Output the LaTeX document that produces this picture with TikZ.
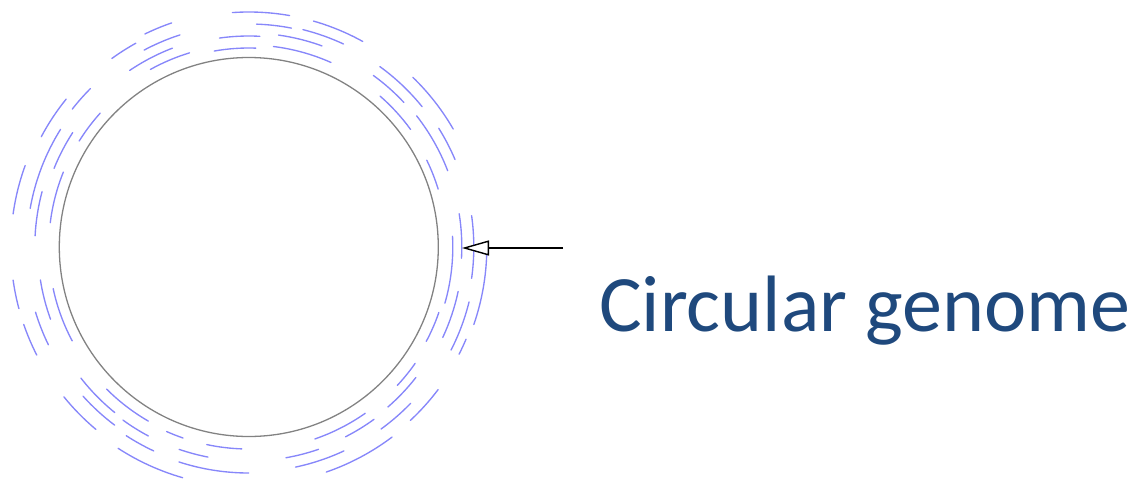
\documentclass[tikz,border=0pt]{standalone}
\usepackage{fontspec}
\setmainfont{Carlito}
\usetikzlibrary{arrows.meta}
\definecolor{arcblue}{RGB}{135,135,250}
\definecolor{ringgray}{RGB}{130,130,130}
\definecolor{labelblue}{RGB}{31,73,125}
\begin{document}
\begin{tikzpicture}[x=1pt,y=1pt,
  bluearc/.style={draw=arcblue,line width=1.35pt,line cap=round},
  ring/.style={draw=ringgray,line width=1.3pt},
  pointer/.style={draw=black,line width=1.4pt,-{Triangle[length=27pt,width=15pt,fill=white]}}]
\useasboundingbox (0,-482) rectangle (1132,0);
\coordinate (C) at (248.8,-247);
\foreach \s/\e/\r in {80/94/235,79/88/223,61/74/235,109/116/237,119/126/233,108/118/223,
  111/124/213,107/119/203,87/98/211,88/100/199,70/82/214,66/83/202,65/76/224,
  39/54/223,43/54/212,36/49/200,30/46/236,21/38/213,23/32/224,17/26/198,
  135/142/224,141/152/235,138/148/200,148/170/222,147/158/210,160/172/238,
  165/177/214,158/173/200,188/195/238,189/200/211,192/208/200,197/206/223,
  199/207/238,218/231/213,219/230/238,222/233/223,225/240/201,234/242/214,
  237/245/225,237/254/240,246/251/202,251/259/214,258/268/202,252/270/226,
  280/289/214,282/295/225,289/307/238,289/305/203,297/306/213,306/316/225,
  311/322/212,317/325/203,313/323/237,332/341/201,335/348/214,333/346/227,
  333/337/236,341/359/238,344/363/204,357/369/213,352/368/225}
  \draw[bluearc] ([shift={(\s:\r)}]C) arc[start angle=\s,end angle=\e,radius=\r];
\node[ring,circle,minimum size=379pt,inner sep=0] (genome) at (C) {};
\coordinate (tail) at (563,-248);
\coordinate (tip) at (462,-248);
\draw[pointer] (tail) -- (tip);
\node[anchor=base west,inner sep=0,text=labelblue,font=\fontsize{80}{96}\selectfont] (label) at (599,-331) {Circular genome};
\end{tikzpicture}
\end{document}
